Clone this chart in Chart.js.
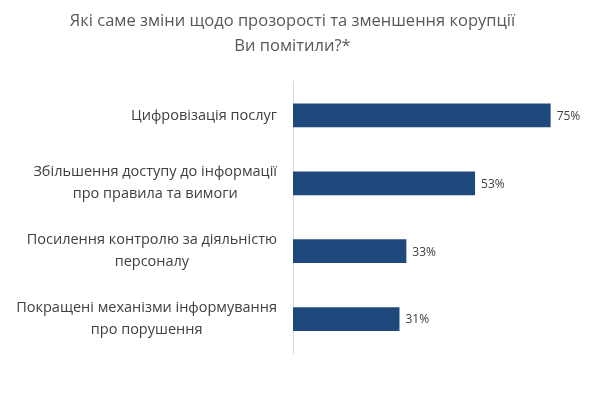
<!DOCTYPE html>
<html>
<head>
<meta charset="utf-8">
<script src="https://cdn.jsdelivr.net/npm/chart.js@4"></script>
<style>
  html, body { margin: 0; padding: 0; background: #ffffff; }
  #wrap { width: 600px; height: 400px; }
</style>
</head>
<body>
<div id="wrap"><canvas id="chart"></canvas></div>
<script>
const titleLines = ['Які саме зміни щодо прозорості та зменшення корупції', 'Ви помітили?*'];
const categories = [
  ['Цифровізація послуг'],
  ['Збільшення доступу до інформації', 'про правила та вимоги'],
  ['Посилення контролю за діяльністю', 'персоналу'],
  ['Покращені механізми інформування', 'про порушення']
];
const values = [75, 53, 33, 31];

const textColor = '#404040';
const barColor = '#1f497d';
const labelFont = '14.5px "Open Sans"';

// category labels: block right-aligned to the axis, lines centred inside the block
const categoryLabels = {
  id: 'categoryLabels',
  afterDraw(chart) {
    const { ctx } = chart;
    const yScale = chart.scales.y;
    const right = yScale.right - 16;
    const lineH = 22;
    ctx.save();
    ctx.font = labelFont;
    ctx.fillStyle = textColor;
    ctx.textAlign = 'center';
    ctx.textBaseline = 'middle';
    categories.forEach((lines, i) => {
      const w = Math.max(...lines.map(l => ctx.measureText(l).width));
      const cx = right - w / 2;
      const cy = yScale.getPixelForTick(i);
      lines.forEach((line, j) => {
        ctx.fillText(line, cx, cy + (j - (lines.length - 1) / 2) * lineH);
      });
    });
    ctx.restore();
  }
};

const valueLabels = {
  id: 'valueLabels',
  afterDatasetsDraw(chart) {
    const { ctx } = chart;
    const meta = chart.getDatasetMeta(0);
    ctx.save();
    ctx.font = '12px "Open Sans"';
    ctx.fillStyle = textColor;
    ctx.textAlign = 'left';
    ctx.textBaseline = 'middle';
    meta.data.forEach((bar, i) => {
      ctx.fillText(values[i] + '%', bar.x + 6, bar.y + 1);
    });
    ctx.restore();
  }
};

new Chart(document.getElementById('chart'), {
  type: 'bar',
  data: {
    labels: categories,
    datasets: [{
      data: values,
      backgroundColor: barColor,
      borderWidth: 0,
      barPercentage: 0.35,
      categoryPercentage: 1
    }]
  },
  options: {
    indexAxis: 'y',
    responsive: true,
    maintainAspectRatio: false,
    animation: false,
    layout: {
      padding: { top: 0, right: 15, bottom: 47, left: 0 }
    },
    plugins: {
      legend: { display: false },
      tooltip: { enabled: false },
      title: {
        display: true,
        text: titleLines,
        color: '#595959',
        font: { family: 'Open Sans', size: 16.5, weight: 'normal', lineHeight: 1.5 },
        padding: { top: 9, bottom: 23 }
      }
    },
    scales: {
      x: {
        display: false,
        min: 0,
        max: 85
      },
      y: {
        grid: { display: false },
        border: { display: true, color: '#d9d9d9', width: 1 },
        ticks: {
          color: 'rgba(0,0,0,0)',
          padding: 16,
          font: { family: 'Open Sans', size: 14 }
        },
        afterFit(scale) {
          scale.width = 293;
        }
      }
    }
  },
  plugins: [valueLabels, categoryLabels]
});
</script>
</body>
</html>
